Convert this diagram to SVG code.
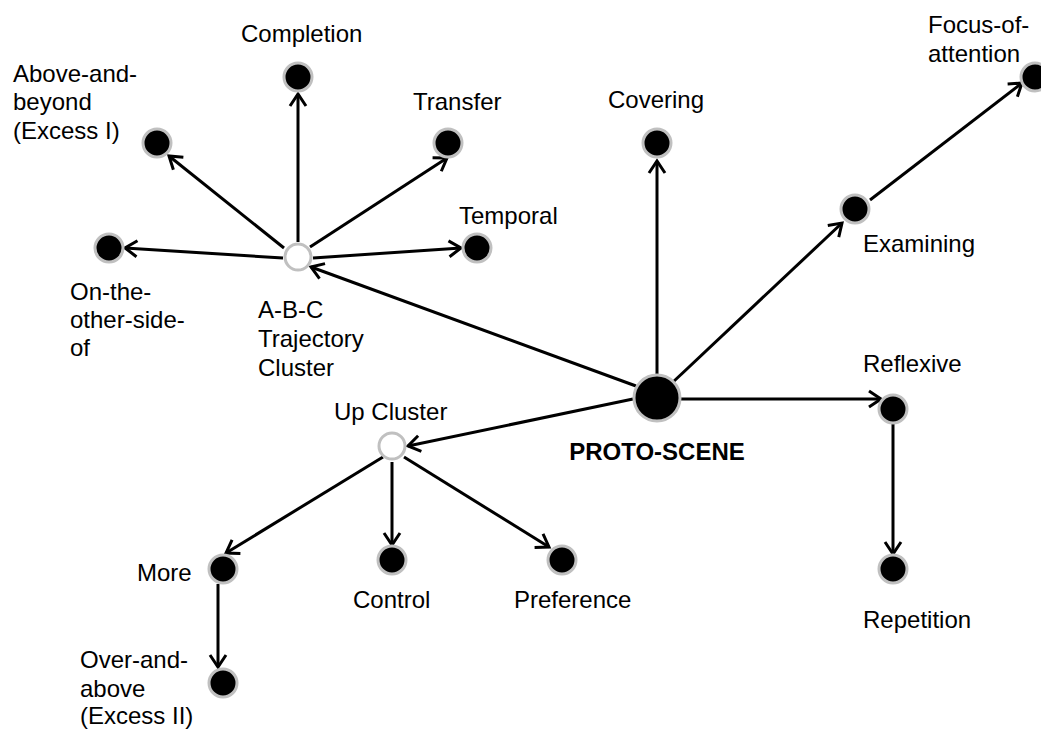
<svg xmlns="http://www.w3.org/2000/svg" width="1041" height="729" viewBox="0 0 1041 729">
<style>
  .lbl { font-family: "Liberation Sans", Arial, sans-serif; font-size: 24px; fill: #000; }
  .bold { font-weight: bold; }
  .node { fill: #000; stroke: #c0c0c0; stroke-width: 3; }
  .cluster { fill: #fff; stroke: #c0c0c0; stroke-width: 3; }
  .edge { stroke: #000; stroke-width: 3; fill: none; marker-end: url(#arr); }
</style>
<defs>
  <marker id="arr" markerUnits="userSpaceOnUse" markerWidth="20" markerHeight="20" viewBox="-14 -10 16 20" refX="0" refY="0" orient="auto">
    <path d="M-12,-8 L0,0 L-12,8" fill="none" stroke="#000" stroke-width="3" stroke-linejoin="miter"/>
  </marker>
</defs>
<rect width="1041" height="729" fill="#fff"/>
<g id="connectors">
  <line class="edge" x1="298" y1="242" x2="298" y2="94"/>
  <line class="edge" x1="284" y1="248" x2="169" y2="156"/>
  <line class="edge" x1="310" y1="247" x2="447" y2="158"/>
  <line class="edge" x1="283" y1="258" x2="125" y2="248"/>
  <line class="edge" x1="313" y1="258" x2="461" y2="248"/>
  <line class="edge" x1="636" y1="386" x2="311" y2="267"/>
  <line class="edge" x1="657" y1="374" x2="657" y2="161"/>
  <line class="edge" x1="672" y1="383" x2="842" y2="223"/>
  <line class="edge" x1="870" y1="200" x2="1022" y2="83"/>
  <line class="edge" x1="681" y1="399" x2="881" y2="399"/>
  <line class="edge" x1="893" y1="424" x2="893" y2="554"/>
  <line class="edge" x1="633" y1="399" x2="408" y2="446"/>
  <line class="edge" x1="383" y1="457" x2="226" y2="553"/>
  <line class="edge" x1="392" y1="462" x2="392" y2="545"/>
  <line class="edge" x1="404" y1="457" x2="549" y2="547"/>
  <line class="edge" x1="218" y1="584" x2="218" y2="667"/>
</g>
<g id="proto-scene">
  <circle class="node" cx="657" cy="398" r="23"/>
  <text class="lbl bold" x="657" y="460" text-anchor="middle">PROTO-SCENE</text>
</g>
<g id="abc-cluster">
  <circle class="cluster" cx="298" cy="257" r="13"/>
  <text class="lbl" x="258" y="318">A-B-C</text>
  <text class="lbl" x="258" y="347">Trajectory</text>
  <text class="lbl" x="258" y="376">Cluster</text>
</g>
<g id="completion">
  <circle class="node" cx="298" cy="77" r="14"/>
  <text class="lbl" x="241" y="42">Completion</text>
</g>
<g id="above-and-beyond">
  <circle class="node" cx="157" cy="143" r="14"/>
  <text class="lbl" x="13" y="82">Above-and-</text>
  <text class="lbl" x="13" y="110">beyond</text>
  <text class="lbl" x="13" y="139">(Excess I)</text>
</g>
<g id="transfer">
  <circle class="node" cx="448" cy="143" r="14"/>
  <text class="lbl" x="413" y="110">Transfer</text>
</g>
<g id="temporal">
  <circle class="node" cx="477" cy="248" r="14"/>
  <text class="lbl" x="459" y="224">Temporal</text>
</g>
<g id="on-the-other-side-of">
  <circle class="node" cx="109" cy="248" r="14"/>
  <text class="lbl" x="70" y="300">On-the-</text>
  <text class="lbl" x="70" y="328">other-side-</text>
  <text class="lbl" x="70" y="356">of</text>
</g>
<g id="covering">
  <circle class="node" cx="657" cy="143" r="14"/>
  <text class="lbl" x="608" y="108">Covering</text>
</g>
<g id="examining">
  <circle class="node" cx="855" cy="209" r="14"/>
  <text class="lbl" x="863" y="252">Examining</text>
</g>
<g id="focus-of-attention">
  <circle class="node" cx="1035" cy="77" r="14"/>
  <text class="lbl" x="928" y="33">Focus-of-</text>
  <text class="lbl" x="928" y="62">attention</text>
</g>
<g id="reflexive">
  <circle class="node" cx="893" cy="409" r="14"/>
  <text class="lbl" x="863" y="372">Reflexive</text>
</g>
<g id="repetition">
  <circle class="node" cx="893" cy="569" r="14"/>
  <text class="lbl" x="863" y="628">Repetition</text>
</g>
<g id="up-cluster">
  <circle class="cluster" cx="392" cy="446" r="13"/>
  <text class="lbl" x="334" y="420">Up Cluster</text>
</g>
<g id="more">
  <circle class="node" cx="223" cy="569" r="14"/>
  <text class="lbl" x="137" y="581">More</text>
</g>
<g id="control">
  <circle class="node" cx="392" cy="560" r="14"/>
  <text class="lbl" x="353" y="608">Control</text>
</g>
<g id="preference">
  <circle class="node" cx="562" cy="560" r="14"/>
  <text class="lbl" x="514" y="608">Preference</text>
</g>
<g id="over-and-above">
  <circle class="node" cx="223" cy="683" r="14"/>
  <text class="lbl" x="80" y="668">Over-and-</text>
  <text class="lbl" x="80" y="697">above</text>
  <text class="lbl" x="80" y="724">(Excess II)</text>
</g>
</svg>
